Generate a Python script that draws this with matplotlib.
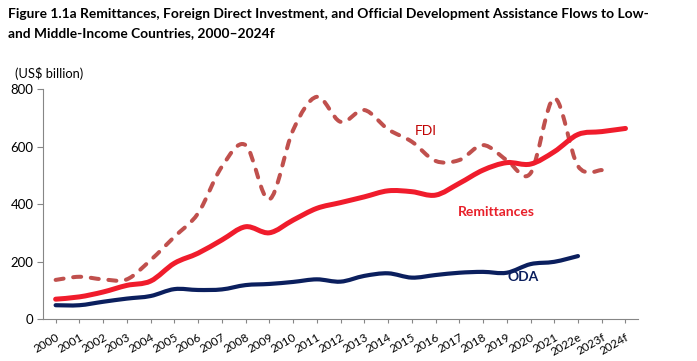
import numpy as np
import matplotlib
matplotlib.use("Agg")
import matplotlib.pyplot as plt
from matplotlib.path import Path
from matplotlib.patches import PathPatch

years = ['2000', '2001', '2002', '2003', '2004', '2005', '2006', '2007', '2008',
         '2009', '2010', '2011', '2012', '2013', '2014', '2015', '2016', '2017',
         '2018', '2019', '2020', '2021', '2022e', '2023f', '2024f']

# US$ billion
remittances = [70, 78, 95, 118, 133, 195, 230, 276, 322, 301, 345, 386, 406, 426,
               447, 444, 432, 473, 519, 545, 540, 583, 643, 653, 664]
fdi = [137, 148, 139, 139, 206, 287, 369, 531, 606, 417, 658, 774, 687, 728,
       661, 618, 551, 554, 606, 554, 508, 769, 533, 519]
oda = [49, 49, 61, 72, 81, 105, 102, 104, 119, 123, 130, 139, 131, 151, 160,
       145, 154, 162, 165, 162, 192, 200, 220]

plt.rcParams['font.family'] = ['Lato', 'DejaVu Sans']


def smooth(x, y):
    # Excel style smoothed line: cubic bezier through the points
    x = np.asarray(x, float)
    y = np.asarray(y, float)
    p = np.column_stack([x, y])
    pad = np.vstack([p[0], p, p[-1]])
    verts = [p[0]]
    codes = [Path.MOVETO]
    for i in range(len(p) - 1):
        c1 = p[i] + (pad[i + 2] - pad[i]) / 6
        c2 = p[i + 1] - (pad[i + 3] - pad[i + 1]) / 6
        verts += [c1, c2, p[i + 1]]
        codes += [Path.CURVE4] * 3
    return Path(verts, codes)


fig = plt.figure(figsize=(6.97, 3.61), dpi=100)
ax = fig.add_axes([0.0621, 0.1155, 0.853, 0.637])

ax.add_patch(PathPatch(smooth(range(len(fdi)), fdi), fill=False, edgecolor='#C0504D',
                       lw=2.9, linestyle=(0, (2.0, 2.4)), capstyle='round'))
ax.add_patch(PathPatch(smooth(range(len(remittances)), remittances), fill=False,
                       edgecolor='#F01C2C', lw=3.6, capstyle='round'))
ax.add_patch(PathPatch(smooth(range(len(oda)), oda), fill=False, edgecolor='#0B1F5E',
                       lw=3.0, capstyle='round'))

ax.text(15.59, 655, 'FDI', color='#C00000', fontsize=10, ha='center', va='center')
ax.text(18.58, 373, 'Remittances', color='#E8202A', fontsize=10, fontweight='bold',
        ha='center', va='center')
ax.text(19.70, 147, 'ODA', color='#0B1F5E', fontsize=10, fontweight='bold',
        ha='center', va='center')

ax.set_xlim(-0.52, len(years) - 0.48)
ax.set_ylim(0, 800)
ax.set_xticks(range(len(years)))
ax.set_xticklabels(years, rotation=30, ha='right', rotation_mode='anchor', fontsize=8.5)
ax.set_yticks([0, 200, 400, 600, 800])
ax.tick_params(axis='y', labelsize=9.5, length=4, color='#868686', pad=3)
ax.tick_params(axis='x', length=3, color='#868686', pad=6)
for s in ['top', 'right']:
    ax.spines[s].set_visible(False)
for s in ['left', 'bottom']:
    ax.spines[s].set_color('#868686')

fig.text(0.021, 0.785, '(US$ billion)', fontsize=9.3)
fig.text(0.011, 0.978, 'Figure 1.1a Remittances, Foreign Direct Investment, and Official '
         'Development Assistance Flows to Low-\nand Middle-Income Countries, 2000\u20132024f',
         fontsize=9.9, fontweight='bold', va='top', linespacing=1.75)

fig.savefig('out.png', dpi=100)
